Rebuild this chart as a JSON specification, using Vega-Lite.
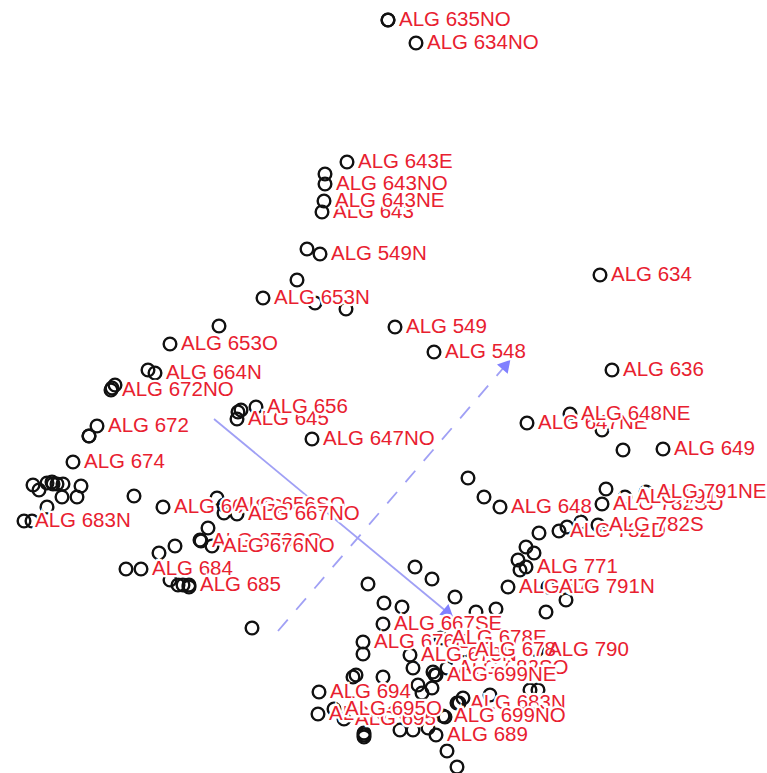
{"$schema":"https://vega.github.io/schema/vega-lite/v6.json","width":767,"height":773,"autosize":{"type":"none"},"padding":0,"background":"white","config":{"view":{"stroke":null}},
"datasets":{"arrows":[{"x":214,"y":419,"xe":447,"ye":612,"kind":"solid"},{"x":278,"y":631,"xe":505,"ye":366,"kind":"dashed"}],
"pts":[
{"x":388,"y":20,"name":"ALG 635NO","g":3},{"x":388,"y":20},{"x":416,"y":43,"name":"ALG 634NO","g":3},{"x":347,"y":162,"name":"ALG 643E","g":3},{"x":325,"y":174},{"x":325,"y":184,"name":"ALG 643NO","g":1},{"x":324,"y":201,"name":"ALG 643NE","g":2},{"x":322,"y":212,"name":"ALG 643","g":1},{"x":307,"y":249},{"x":320,"y":254,"name":"ALG 549N","g":3},{"x":297,"y":280},{"x":263,"y":298,"name":"ALG 653N","g":2},{"x":315,"y":303},{"x":346,"y":309},{"x":219,"y":326},{"x":395,"y":327,"name":"ALG 549","g":3},{"x":170,"y":344,"name":"ALG 653O","g":3},{"x":434,"y":352,"name":"ALG 548","g":3},{"x":148,"y":370},{"x":155,"y":373,"name":"ALG 664N","g":1},{"x":115,"y":385},{"x":112,"y":388},{"x":111,"y":390,"name":"ALG 672NO","g":2},
{"x":600,"y":275,"name":"ALG 634","g":3},{"x":612,"y":370,"name":"ALG 636","g":3},{"x":527,"y":423,"name":"ALG 647NE","g":1},{"x":570,"y":414,"name":"ALG 648NE","g":2},{"x":602,"y":430},{"x":623,"y":450},{"x":663,"y":449,"name":"ALG 649","g":3},
{"x":241,"y":410},{"x":238,"y":412},{"x":237,"y":419,"name":"ALG 645","g":1},{"x":256,"y":407,"name":"ALG 656","g":2},{"x":312,"y":439,"name":"ALG 647NO","g":3},{"x":97,"y":426,"name":"ALG 672","g":3},{"x":89,"y":436},{"x":89,"y":436},{"x":73,"y":462,"name":"ALG 674","g":3},
{"x":33,"y":485},{"x":39,"y":490},{"x":47,"y":483},{"x":52,"y":482},{"x":53,"y":484},{"x":57,"y":484},{"x":63,"y":484},{"x":81,"y":486},{"x":62,"y":497},{"x":77,"y":497},{"x":134,"y":496},{"x":47,"y":507},{"x":24,"y":521,"name":"ALG 683N","g":3},{"x":32,"y":521},
{"x":163,"y":507,"name":"ALG 664SO","g":1},{"x":217,"y":498},{"x":224,"y":505,"name":"ALG 656SO","g":2},{"x":224,"y":513},{"x":237,"y":514,"name":"ALG 667NO","g":3},{"x":208,"y":528},{"x":200,"y":540},{"x":201,"y":541,"name":"ALG 676SO","g":1},{"x":212,"y":546,"name":"ALG 676NO","g":2},{"x":175,"y":546},{"x":159,"y":553},{"x":126,"y":569},{"x":141,"y":569,"name":"ALG 684","g":1},{"x":170,"y":580},{"x":178,"y":585},{"x":183,"y":585},{"x":189,"y":585,"name":"ALG 685","g":2},{"x":189,"y":587},{"x":252,"y":628},
{"x":468,"y":478},{"x":484,"y":497},{"x":500,"y":507,"name":"ALG 648","g":3},{"x":606,"y":489},{"x":602,"y":504,"name":"ALG 782SO","g":1},{"x":625,"y":497,"name":"ALG 791","g":2},{"x":646,"y":492,"name":"ALG 791NE","g":3},{"x":539,"y":533},{"x":559,"y":531,"name":"ALG 782D","g":1},{"x":567,"y":527},{"x":581,"y":522},{"x":598,"y":525,"name":"ALG 782S","g":2},{"x":526,"y":547},{"x":534,"y":553},{"x":518,"y":560},{"x":526,"y":567,"name":"ALG 771","g":3},{"x":520,"y":570},{"x":508,"y":587,"name":"ALG 678","g":1},{"x":548,"y":587,"name":"ALG 791N","g":2},{"x":566,"y":600},{"x":546,"y":612},
{"x":368,"y":584},{"x":384,"y":603},{"x":402,"y":607},{"x":432,"y":579},{"x":415,"y":567},{"x":455,"y":597},{"x":476,"y":612},{"x":496,"y":609},{"x":383,"y":624,"name":"ALG 667SE","g":1},{"x":363,"y":642,"name":"ALG 676E","g":1},{"x":363,"y":654},{"x":441,"y":638,"name":"ALG 678E","g":2},{"x":410,"y":655,"name":"ALG 678N","g":2},{"x":464,"y":650,"name":"ALG 678","g":3},{"x":537,"y":650,"name":"ALG 790","g":3},{"x":447,"y":668,"name":"ALG 682SO","g":1},{"x":436,"y":675,"name":"ALG 699NE","g":3},{"x":413,"y":668},{"x":433,"y":672},{"x":435,"y":675},{"x":356,"y":675},{"x":353,"y":677},{"x":383,"y":677},{"x":319,"y":692,"name":"ALG 694","g":2},{"x":418,"y":685},{"x":432,"y":688},{"x":422,"y":693},{"x":318,"y":714,"name":"ALG 693","g":1},{"x":334,"y":709,"name":"ALG 695O","g":3},{"x":344,"y":719,"name":"ALG 695","g":2},{"x":457,"y":703},{"x":463,"y":698},{"x":459,"y":703,"name":"ALG 683N","g":1},{"x":490,"y":695},{"x":530,"y":690},{"x":538,"y":690},{"x":443,"y":716,"name":"ALG 699NO","g":3},{"x":445,"y":717},{"x":400,"y":730},{"x":413,"y":730},{"x":428,"y":728},{"x":364,"y":733},{"x":364,"y":735},{"x":364,"y":737},{"x":436,"y":735,"name":"ALG 689","g":3},{"x":447,"y":751},{"x":457,"y":767}
]},
"layer":[
{"data":{"name":"arrows"},"transform":[{"filter":"datum.kind=='solid'"}],"mark":{"type":"rule","color":"#a0a0f5","strokeWidth":1.8},"encoding":{"x":{"field":"x","type":"quantitative","scale":{"domain":[0,767],"nice":false,"zero":false},"axis":null},"y":{"field":"y","type":"quantitative","scale":{"domain":[773,0],"nice":false,"zero":false},"axis":null},"x2":{"field":"xe"},"y2":{"field":"ye"}}},
{"data":{"name":"arrows"},"transform":[{"filter":"datum.kind=='dashed'"}],"mark":{"type":"rule","color":"#a0a0f5","strokeWidth":1.8,"strokeDash":[15,13]},"encoding":{"x":{"field":"x","type":"quantitative"},"y":{"field":"y","type":"quantitative"},"x2":{"field":"xe"},"y2":{"field":"ye"}}},
{"data":{"name":"arrows"},"transform":[{"filter":"datum.kind=='solid'"}],"mark":{"type":"point","shape":"triangle","filled":true,"color":"#8080ff","opacity":1,"size":200,"angle":130},"encoding":{"x":{"field":"xe","type":"quantitative"},"y":{"field":"ye","type":"quantitative"}}},
{"data":{"name":"arrows"},"transform":[{"filter":"datum.kind=='dashed'"}],"mark":{"type":"point","shape":"triangle","filled":true,"color":"#8080ff","opacity":1,"size":200,"angle":41},"encoding":{"x":{"field":"xe","type":"quantitative"},"y":{"field":"ye","type":"quantitative"}}},
{"data":{"name":"pts"},"mark":{"type":"point","filled":false,"shape":"circle","color":"#111111","opacity":1,"size":160,"strokeWidth":2.4},"encoding":{"x":{"field":"x","type":"quantitative"},"y":{"field":"y","type":"quantitative"}}},
{"data":{"name":"pts"},"transform":[{"filter":"datum.g==1"}],"mark":{"type":"text","align":"left","baseline":"middle","dx":11,"font":"Liberation Sans","fontSize":20.5,"fill":"white","stroke":"white","strokeWidth":4.5},"encoding":{"x":{"field":"x","type":"quantitative"},"y":{"field":"y","type":"quantitative"},"text":{"field":"name"}}},
{"data":{"name":"pts"},"transform":[{"filter":"datum.g==1"}],"mark":{"type":"text","align":"left","baseline":"middle","dx":11,"font":"Liberation Sans","fontSize":20.5,"fill":"#e8202f"},"encoding":{"x":{"field":"x","type":"quantitative"},"y":{"field":"y","type":"quantitative"},"text":{"field":"name"}}},
{"data":{"name":"pts"},"transform":[{"filter":"datum.g==2"}],"mark":{"type":"text","align":"left","baseline":"middle","dx":11,"font":"Liberation Sans","fontSize":20.5,"fill":"white","stroke":"white","strokeWidth":4.5},"encoding":{"x":{"field":"x","type":"quantitative"},"y":{"field":"y","type":"quantitative"},"text":{"field":"name"}}},
{"data":{"name":"pts"},"transform":[{"filter":"datum.g==2"}],"mark":{"type":"text","align":"left","baseline":"middle","dx":11,"font":"Liberation Sans","fontSize":20.5,"fill":"#e8202f"},"encoding":{"x":{"field":"x","type":"quantitative"},"y":{"field":"y","type":"quantitative"},"text":{"field":"name"}}},
{"data":{"name":"pts"},"transform":[{"filter":"datum.g==3"}],"mark":{"type":"text","align":"left","baseline":"middle","dx":11,"font":"Liberation Sans","fontSize":20.5,"fill":"white","stroke":"white","strokeWidth":4.5},"encoding":{"x":{"field":"x","type":"quantitative"},"y":{"field":"y","type":"quantitative"},"text":{"field":"name"}}},
{"data":{"name":"pts"},"transform":[{"filter":"datum.g==3"}],"mark":{"type":"text","align":"left","baseline":"middle","dx":11,"font":"Liberation Sans","fontSize":20.5,"fill":"#e8202f"},"encoding":{"x":{"field":"x","type":"quantitative"},"y":{"field":"y","type":"quantitative"},"text":{"field":"name"}}}
]}
